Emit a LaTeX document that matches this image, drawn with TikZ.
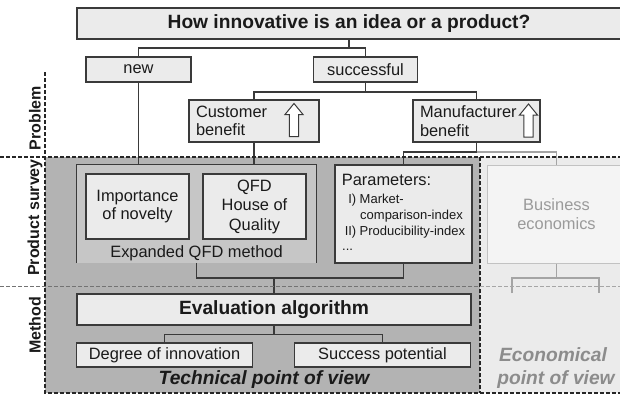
\documentclass[tikz,border=0pt]{standalone}
\usepackage{fontspec}
\setmainfont{Liberation Sans}
\newcommand\fsreg{\fontsize{16.4}{18.7}\selectfont}
\newcommand\fssmall{\fontsize{13}{15}\selectfont}
\newcommand\fsbig{\fontsize{19.2}{22}\bfseries\selectfont}
\newcommand\fsbigit{\fontsize{19.2}{23}\bfseries\itshape\selectfont}
\newcommand\fslabel{\fontsize{16}{18}\bfseries\selectfont}
\definecolor{boxfill}{HTML}{EBEBEB}
\definecolor{boxdraw}{HTML}{3A3A3A}
\definecolor{techfill}{HTML}{B3B3B3}
\definecolor{qfdfill}{HTML}{C6C6C6}
\definecolor{econfill}{HTML}{EBEBEB}
\definecolor{busfill}{HTML}{F4F4F4}
\definecolor{busdraw}{HTML}{C2C2C2}
\definecolor{bustext}{HTML}{9A9A9A}
\definecolor{econtext}{HTML}{8C8C8C}
\definecolor{lightline}{HTML}{A4A4A4}
\definecolor{txt}{HTML}{1A1A1A}
\begin{document}
\begin{tikzpicture}[x=1pt,y=-1pt,
  box/.style={draw=boxdraw, fill=boxfill, line width=1.2pt, inner sep=0pt, font=\fsreg, text=txt},
  conn/.style={draw=boxdraw, line width=1.4pt},
  lightconn/.style={draw=lightline, line width=1.4pt},
  dsh/.style={draw=black!85, line width=1.1pt, dash pattern=on 4pt off 2pt},
  dshgray/.style={draw=black!55, line width=1pt, dash pattern=on 4pt off 2pt},
  dshlight/.style={draw=black!35, line width=1pt, dash pattern=on 4pt off 2pt},
  uparr/.pic={\draw[boxdraw, fill=white, line width=1pt] (0,0) -- (9,11) -- (4.6,11) -- (4.6,33) -- (-4.6,33) -- (-4.6,11) -- (-9,11) -- cycle;},
  lbl/.style={rotate=90, font=\fslabel, text=txt, inner sep=0pt}
]
\useasboundingbox (0,0) rectangle (620,396);
% regions
\fill[techfill] (45,157) rectangle (480,393);
\fill[econfill] (480,157) rectangle (620,393);

% problem level
\node[box, minimum width=544pt, minimum height=31pt, font=\fsbig] (q) at (349,23.5) {How innovative is an idea or a product?};
\node[box, minimum width=105pt, minimum height=25pt] (new) at (138.5,69.5) {new};
\node[box, minimum width=104pt, minimum height=25pt] (succ) at (365.5,69.5) {successful};
\node[box, minimum width=130pt, minimum height=42pt, text width=116pt, inner xsep=7pt, align=left] (cust) at (254,121) {Customer\\benefit};
\node[box, minimum width=127pt, minimum height=42pt, text width=113pt, inner xsep=7pt, align=left] (manu) at (476.5,121) {Manufacturer\\benefit};
\pic at (294,103.5) {uparr};
\pic at (528.5,104) {uparr};

% product survey level
\fill[qfdfill] (77,165) rectangle (316,263);
\node[inner sep=0pt, minimum width=239pt, minimum height=98pt] (qfd) at (196.5,214) {};
\draw[boxdraw, line width=1.2pt] (qfd.south west) |- (qfd.north east) -- (qfd.south east);
\node[box, minimum width=103pt, minimum height=65pt, align=center] (imp) at (137.5,206.5) {Importance\\of novelty};
\node[box, minimum width=103pt, minimum height=65pt, align=center, font=\fontsize{16.4}{19.5}\selectfont] (hoq) at (254.5,206.5) {QFD\\House of\\Quality};
\node[font=\fsreg, text=txt, inner sep=0pt, anchor=base] (qfdlbl) at (196.5,257.5) {Expanded QFD method};

\node[box, minimum width=137pt, minimum height=98pt] (params) at (403.5,214) {};
\node[anchor=base west, font=\fsreg, text=txt, inner sep=0pt] (p0) at (341.7,185.5) {Parameters:};
\node[anchor=base east, font=\fssmall, text=txt, inner sep=0pt] (p1a) at (356.5,203.5) {I)};
\node[anchor=base west, font=\fssmall, text=txt, inner sep=0pt] (p1b) at (359.5,203.5) {Market-};
\node[anchor=base west, font=\fssmall, text=txt, inner sep=0pt] (p2) at (360,219.5) {comparison-index};
\node[anchor=base east, font=\fssmall, text=txt, inner sep=0pt] (p3a) at (356.5,235) {II)};
\node[anchor=base west, font=\fssmall, text=txt, inner sep=0pt] (p3b) at (359.5,235) {Producibility-index};
\node[anchor=base west, font=\fssmall, text=txt, inner sep=0pt] (p4) at (342,250) {...};

\node[draw=busdraw, fill=busfill, line width=1pt, minimum width=139pt, minimum height=98pt, font=\fsreg, text=bustext, align=center, inner sep=0pt] (bus) at (556.5,214) {Business\\economics};

% method level
\node[box, minimum width=394pt, minimum height=31pt, font=\fsbig] (eval) at (274,309.5) {Evaluation algorithm};
\node[box, minimum width=175.5pt, minimum height=24pt] (deg) at (164.5,355) {Degree of innovation};
\node[box, minimum width=176.5pt, minimum height=24pt] (succp) at (382.5,355) {Success potential};
\node[font=\fsbigit, text=txt, inner sep=0pt, anchor=base] (tech) at (264,384.5) {Technical point of view};
\node[font=\fsbigit, text=econtext, inner sep=0pt, anchor=base] (econ1) at (553,361.5) {Economical};
\node[font=\fsbigit, text=econtext, inner sep=0pt, anchor=base] (econ2) at (556,384.5) {point of view};

% connectors
\draw[conn] (q.south) -- (q.south |- 0,48);
\draw[conn] (new.north) |- (succ.north |- 0,48) -- (succ.north);
\draw[conn] (succ.south) -- (succ.south |- 0,92);
\draw[conn] (cust.north) |- (manu.north |- 0,92) -- (manu.north);
\draw[conn] (new.south) -- (new.south |- qfd.north);
\draw[conn] (cust.south) -- (cust.south |- qfd.north);
\draw[lightconn] (manu.south |- 0,152) -| (bus.north);
\draw[conn] (manu.south) |- (params.north |- 0,152) -- (params.north);
\draw[conn] (qfd.south) |- (params.south |- 0,278) -- (params.south);
\draw[conn] (eval.north) -- (eval.north |- 0,278);
\draw[lightconn] (bus.south) -- (bus.south |- 0,278);
\coordinate (b1) at (512,293);
\coordinate (b2) at (599,293);
\draw[lightconn] (b1) |- (b2 |- 0,278) -- (b2);
\draw[conn] (eval.south) -- (eval.south |- 0,334.5);
\draw[conn] (deg.north) |- (succp.north |- 0,334.5) -- (succp.north);

% dashed frame lines
\draw[dsh] (0,157) -- (620,157);
\draw[dsh] (45,72) -- (45,393) -- (620,393);
\draw[dsh] (480,157) -- (480,393);
\draw[dshgray] (0,286) -- (480,286);
\draw[dshlight] (480,286) -- (620,286);

% row labels
\node[lbl] (lprob) at (35,118) {Problem};
\node[lbl] (lsurv) at (35,217.5) {Product survey};
\node[lbl] (lmeth) at (35,325.5) {Method};
\end{tikzpicture}
\end{document}
